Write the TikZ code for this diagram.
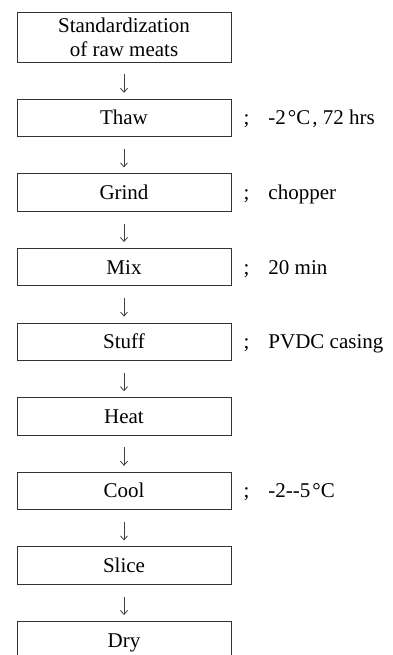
\documentclass[tikz,border=0pt]{standalone}
\usepackage{fontspec}
\setmainfont{Liberation Serif}
\usetikzlibrary{positioning,arrows.meta}
\newcommand{\degc}{\kern2pt°C\kern2pt}
\begin{document}
\begin{tikzpicture}[x=1pt, y=1pt, node distance=36.4pt,
  stage/.style={draw=black!80, line width=0.9pt, minimum width=214pt, minimum height=37.3pt,
    inner sep=0pt, text height=18pt, text depth=4pt, font=\fontsize{21}{24}\selectfont},
  note/.style={anchor=west, inner sep=0pt, text height=18pt, text depth=4pt, font=\fontsize{21}{24}\selectfont},
  flow/.style={-{Straight Barb[length=4pt, width=7pt]}, line width=0.8pt, black!75,
    shorten <=12pt, shorten >=6pt}]
\useasboundingbox (0,0) rectangle (392,-655);
\node[stage, minimum height=50pt, text height={}, text depth={}, align=center] (raw) at (124,-37) {Standardization\\of raw meats};
\node[stage, below=of raw] (thaw) {Thaw};
\node[stage, below=of thaw] (grind) {Grind};
\node[stage, below=of grind] (mix) {Mix};
\node[stage, below=of mix] (stuff) {Stuff};
\node[stage, below=of stuff] (heat) {Heat};
\node[stage, below=of heat] (cool) {Cool};
\node[stage, below=of cool] (slice) {Slice};
\node[stage, below=of slice] (dry) {Dry};
\node[note, right=12pt of thaw] (thawnote) {;\hspace{19pt}-2\degc, 72 hrs};
\node[note, right=12pt of grind] (grindnote) {;\hspace{19pt}chopper};
\node[note, right=12pt of mix] (mixnote) {;\hspace{19pt}20 min};
\node[note, right=12pt of stuff] (stuffnote) {;\hspace{19pt}PVDC casing};
\node[note, right=12pt of cool] (coolnote) {;\hspace{19pt}-2-\kern0pt-5\degc};
\foreach \a/\b in {raw/thaw, thaw/grind, grind/mix, mix/stuff, stuff/heat, heat/cool, cool/slice, slice/dry}
  \draw[flow] (\a) -- (\b);
\end{tikzpicture}
\end{document}
